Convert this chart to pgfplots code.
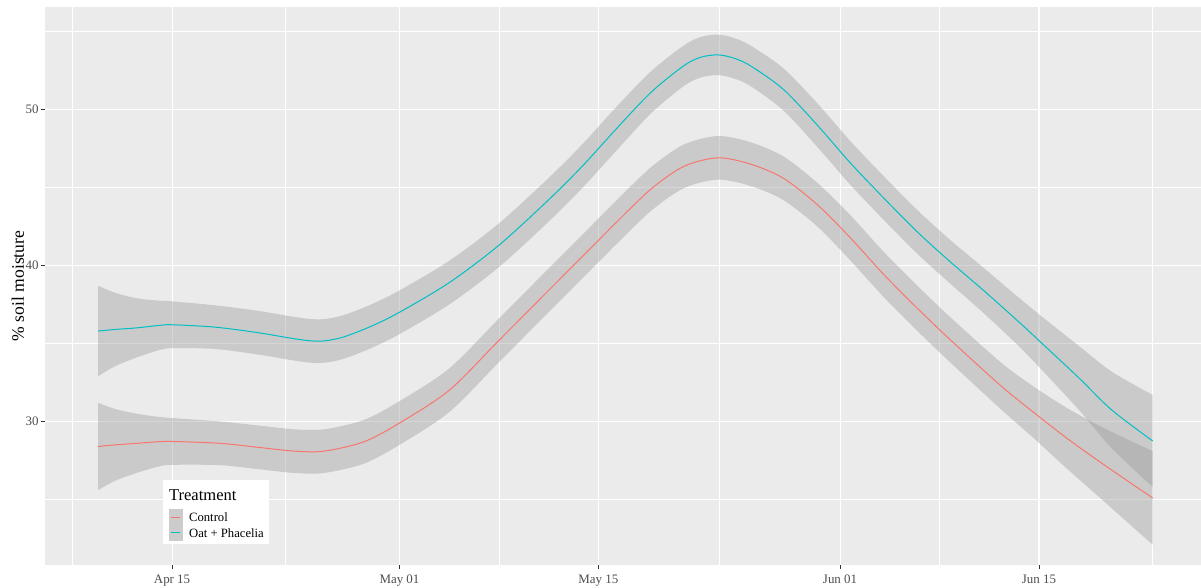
\documentclass[border=0pt]{standalone}
\usepackage{pgfplots}
\usepackage{pgfplotstable}
\pgfplotsset{compat=1.18}
\usepgfplotslibrary{fillbetween}
\usepackage{fontspec}
\setmainfont{Liberation Serif}
\definecolor{panel}{RGB}{235,235,235}
\definecolor{ctrl}{HTML}{F8766D}
\definecolor{oat}{HTML}{00BFC4}
\definecolor{se}{RGB}{153,153,153}
\definecolor{ticktext}{RGB}{77,77,77}

% day 0 = Apr 15
\pgfplotstableread{
d     y      lo     hi
-5.2  35.8   32.9   38.7
-4    35.9   33.55  38.25
-2.5  36.0   34.1   37.9
-1    36.15  34.55  37.75
0     36.2   34.7   37.7
3     36.05  34.65  37.45
6     35.7   34.3   37.1
9     35.25  33.85  36.65
10.5  35.15  33.75  36.55
12    35.4   34.0   36.8
14    36.1   34.7   37.5
16    37.0   35.6   38.4
19.5  38.9   37.5   40.3
23    41.3   39.9   42.7
26.6  44.3   42.9   45.7
28.9  46.4   45.0   47.8
31.3  48.8   47.4   50.2
33.7  51.1   49.75  52.45
36.0  52.8   51.5   54.1
37.2  53.35  52.05  54.65
38.4  53.5   52.2   54.8
39.5  53.3   52.0   54.6
40.7  52.8   51.5   54.1
43.0  51.3   49.95  52.65
45.4  49.0   47.6   50.4
47.7  46.6   45.2   48.0
50.1  44.3   42.9   45.7
52.5  42.1   40.7   43.5
54.8  40.2   38.8   41.6
57.1  38.4   36.95  39.85
59.5  36.45  34.9   38.0
61.1  35.1   33.4   36.8
63.8  32.8   30.75  34.85
66.1  30.75  28.3   33.2
69.0  28.75  25.8   31.7
}\oattab

\pgfplotstableread{
d     y      lo     hi
-5.2  28.4   25.6   31.2
-4    28.5   26.2   30.8
-2.5  28.6   26.7   30.5
-1    28.7   27.1   30.3
0     28.72  27.22  30.22
3.4   28.6   27.2   30.0
6     28.35  26.95  29.75
8.6   28.1   26.7   29.5
10.7  28.1   26.7   29.5
13.5  28.7   27.3   30.1
16    29.9   28.5   31.3
19.5  32.0   30.6   33.4
23    35.2   33.8   36.6
26.6  38.5   37.1   39.9
30.1  41.7   40.3   43.1
31.3  42.8   41.4   44.2
33.7  44.9   43.5   46.3
36.0  46.35  44.95  47.75
38.4  46.9   45.5   48.3
40.7  46.5   45.1   47.9
43.0  45.6   44.2   47.0
45.4  43.9   42.5   45.3
47.7  41.8   40.35  43.25
50.1  39.4   37.95  40.85
52.5  37.2   35.75  38.65
54.8  35.2   33.75  36.65
58.3  32.3   30.8   33.8
60.6  30.6   28.95  32.25
63.0  28.9   26.95  30.85
65.3  27.4   25.1   29.7
67.7  25.9   23.15  28.65
69.0  25.1   22.1   28.1
}\ctrltab

\begin{document}
\begin{tikzpicture}
\begin{axis}[
  at={(0,0)}, anchor=south west,
  scale only axis, width=867pt, height=418.5pt,
  xmin=-8.94, xmax=72.4, ymin=20.8, ymax=56.57,
  axis background/.style={fill=panel},
  axis line style={draw=none},
  xtick={0,16,30,47,61},
  xticklabels={Apr 15, May 01, May 15, Jun 01, Jun 15},
  ytick={30,40,50},
  minor xtick={-7,8,23,38.5,54,69},
  minor ytick={25,35,45,55},
  grid=both,
  major grid style={white, line width=0.8pt},
  minor grid style={white, line width=0.4pt},
  tick align=outside,
  xtick pos=bottom, ytick pos=left,
  major tick length=2.75pt, minor tick length=0pt,
  tick style={draw=black!80, line width=0.6pt},
  /pgf/number format/assume math mode=true,
  ticklabel style={font=\fontsize{9.7}{11}\selectfont, text=ticktext},
  xticklabel style={yshift=-1.2pt},
  yticklabel style={xshift=1.5pt},
  ylabel={\% soil moisture},
  ylabel style={font=\fontsize{13.2}{14}\selectfont, at={(axis description cs:-0.0235,0.5)}, anchor=center},
  legend style={at={(axis description cs:0.102,0.152)}, anchor=north west, draw=none, fill=white,
    font=\fontsize{9.5}{11}\selectfont, row sep=0pt, inner xsep=4pt, inner ysep=2pt,
    nodes={inner sep=0pt}},
  legend cell align=left,
]
\addplot[name path=oatlo, draw=none, smooth, forget plot] table[x=d,y=lo]{\oattab};
\addplot[name path=oathi, draw=none, smooth, forget plot] table[x=d,y=hi]{\oattab};
\addplot[fill=se, fill opacity=0.4, draw=none, forget plot] fill between[of=oatlo and oathi];
\addplot[name path=ctrllo, draw=none, smooth, forget plot] table[x=d,y=lo]{\ctrltab};
\addplot[name path=ctrlhi, draw=none, smooth, forget plot] table[x=d,y=hi]{\ctrltab};
\addplot[fill=se, fill opacity=0.4, draw=none, forget plot] fill between[of=ctrllo and ctrlhi];
\addplot[ctrl, line width=0.75pt, smooth, forget plot] table[x=d,y=y]{\ctrltab};
\addplot[oat, line width=0.75pt, smooth, forget plot] table[x=d,y=y]{\oattab};

\addlegendimage{empty legend}
\addlegendentry{\hspace{-10pt}\fontsize{12.4}{14}\selectfont\raisebox{5pt}{\rule[-8.25pt]{0pt}{21.25pt}Treatment}}
\addlegendimage{ctrl, line width=0.7pt, legend image code/.code={\fill[black!20] (0pt,-5.6pt) rectangle (9.75pt,5.6pt); \draw (1.5pt,0pt) -- (8.25pt,0pt);}}
\addlegendentry{\hspace{5pt}\rule[-3pt]{0pt}{11.25pt}Control}
\addlegendimage{oat, line width=0.7pt, legend image code/.code={\fill[black!20] (0pt,-5.6pt) rectangle (9.75pt,5.6pt); \draw (1.5pt,0pt) -- (8.25pt,0pt);}}
\addlegendentry{\hspace{5pt}\rule[-3pt]{0pt}{11.25pt}Oat + Phacelia}
\end{axis}
\pgfresetboundingbox
\useasboundingbox (-33.75pt,-16.5pt) rectangle (867pt,423.75pt);
\end{tikzpicture}
\end{document}
